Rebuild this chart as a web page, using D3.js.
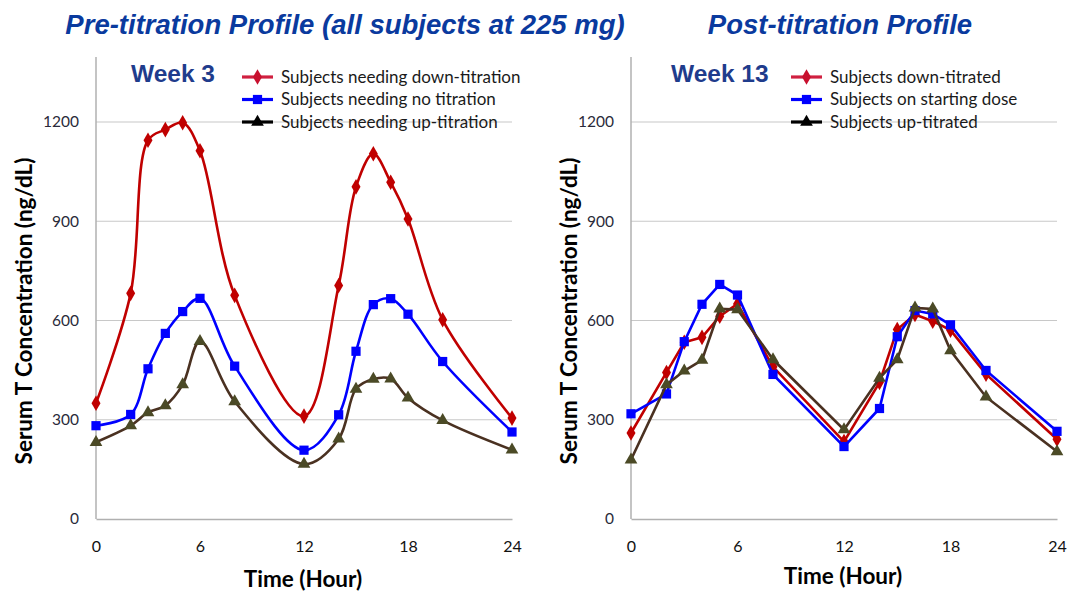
<!DOCTYPE html>
<html><head><meta charset="utf-8">
<script src="https://cdn.jsdelivr.net/npm/d3@7"></script>
<style>body{margin:0;background:#fff}svg{display:block}</style>
</head><body><svg id="c" width="1070" height="592"></svg>
<script>
const hours = [0, 2, 3, 4, 5, 6, 8, 12, 14, 15, 16, 17, 18, 20, 24];
const xTicks = [0, 6, 12, 18, 24];
const yTicks = [0, 300, 600, 900, 1200];

// Week 3 (pre-titration)
const preDown = [350, 682, 1145, 1177, 1198, 1113, 676, 311, 706, 1004, 1104, 1018, 907, 602, 305];
const preNone = [282, 316, 454, 561, 627, 667, 462, 208, 315, 507, 648, 666, 619, 476, 263];
const preUp   = [232, 282, 322, 343, 406, 537, 355, 166, 242, 393, 423, 424, 366, 298, 209];
// Week 13 (post-titration)
const postDown = [260, 443, 534, 549, 613, 650, 460, 234, 413, 573, 618, 598, 571, 438, 241];
const postStart = [318, 378, 536, 649, 709, 677, 437, 219, 334, 551, 630, 620, 587, 449, 265];
const postUp = [179, 406, 448, 480, 635, 633, 482, 270, 426, 482, 638, 635, 509, 369, 204];

const preNames = ["Subjects needing down-titration", "Subjects needing no titration", "Subjects needing up-titration"];
const postNames = ["Subjects down-titrated", "Subjects on starting dose", "Subjects up-titrated"];
const titles = ["Pre-titration Profile (all subjects at 225 mg)", "Post-titration Profile"];
const weeks = ["Week 3", "Week 13"];

const styles = [
  {line: "#c00000", mark: "#c00000", legLine: "#d02040", legMark: "#c8102e", sym: d3.symbolDiamond, size: 70},
  {line: "#0000ff", mark: "#0000ff", legLine: "#0000ff", legMark: "#0000ff", sym: d3.symbolSquare, size: 85},
  {line: "#4a3121", mark: "#4b4a26", legLine: "#000000", legMark: "#000000", sym: d3.symbolTriangle, size: 70}
];

const svg = d3.select("#c");
const FONT = "Lato, 'Open Sans', sans-serif";

function panel(cfg) {
  const x = d3.scaleLinear().domain([0, 24]).range([cfg.x0, cfg.x1]);
  const y = d3.scaleLinear().domain([0, 1200]).range([519, 122]);
  const g = svg.append("g");
  g.selectAll("line.grid").data(yTicks.filter(d => d > 0)).join("line")
    .attr("x1", cfg.x0).attr("x2", cfg.x1).attr("y1", d => y(d)).attr("y2", d => y(d))
    .attr("stroke", "#c8c8c8").attr("stroke-width", 1.2);
  const ya = g.append("g").attr("transform", `translate(${cfg.x0},0)`)
    .call(d3.axisLeft(y).tickValues(yTicks).tickFormat(d3.format("d")).tickSize(0).tickPadding(17));
  ya.select(".domain").attr("stroke", "#b0b0b0").attr("stroke-width", 1.5)
    .attr("d", `M0,${y(1200) - 65}V${y(0)}`);
  ya.selectAll("text").attr("font-family", FONT).attr("font-size", 15.5).attr("fill", "#2a2a3a");
  const xa = g.append("g").attr("transform", `translate(0,${y(0)})`)
    .call(d3.axisBottom(x).tickValues(xTicks).tickSize(0).tickPadding(22));
  xa.select(".domain").attr("stroke", "#b0b0b0").attr("stroke-width", 1.5);
  xa.selectAll("text").attr("font-family", FONT).attr("font-size", 16).attr("fill", "#111");

  const line = d3.line().x((d, i) => x(hours[i])).y(d => y(d)).curve(cfg.curve);
  cfg.series.forEach((s, k) => {
    const st = styles[k];
    g.append("path").datum(s).attr("d", line).attr("fill", "none")
      .attr("stroke", st.line).attr("stroke-width", 2.6);
    g.selectAll(null).data(s).join("path")
      .attr("transform", (d, i) => `translate(${x(hours[i])},${y(d)})`)
      .attr("d", d3.symbol(st.sym, st.size)).attr("fill", st.mark);
  });
  cfg.names.forEach((n, k) => {
    const st = styles[k];
    const ly = 77 + k * 22.5;
    g.append("line").attr("x1", cfg.legX).attr("x2", cfg.legX + 31).attr("y1", ly).attr("y2", ly)
      .attr("stroke", st.legLine).attr("stroke-width", 3.2);
    g.append("path").attr("transform", `translate(${cfg.legX + 15.5},${ly})`)
      .attr("d", d3.symbol(st.sym, st.size)).attr("fill", st.legMark);
    g.append("text").attr("x", cfg.legX + 39).attr("y", ly + 5.5).text(n)
      .attr("font-family", FONT).attr("font-size", 17).attr("fill", "#1a1a1a");
  });
  g.append("text").attr("x", cfg.weekX).attr("y", 82).text(cfg.week)
    .attr("font-family", "'Liberation Sans', Arial, sans-serif").attr("font-weight", "bold")
    .attr("font-size", 24.5).attr("fill", "#1f3c8c");
  g.append("text").attr("x", cfg.titleX).attr("y", 34).text(cfg.title)
    .attr("text-anchor", "middle")
    .attr("font-family", "'Liberation Sans', Arial, sans-serif").attr("font-weight", "bold")
    .attr("font-style", "italic").attr("font-size", 27.5).attr("fill", "#0a3a9e");
  g.append("text").attr("x", (cfg.x0 + cfg.x1) / 2 - 1).attr("y", cfg.xtY).text("Time (Hour)")
    .attr("text-anchor", "middle").attr("font-family", FONT).attr("font-weight", "bold")
    .attr("font-size", 22.5).attr("fill", "#000");
  g.append("text").attr("transform", `translate(${cfg.ytX},311) rotate(-90)`)
    .text("Serum T Concentration (ng/dL)")
    .attr("text-anchor", "middle").attr("font-family", FONT).attr("font-weight", "bold")
    .attr("font-size", 22.5).attr("fill", "#000");
}

panel({x0: 96, x1: 512, series: [preDown, preNone, preUp], names: preNames,
  curve: d3.curveCatmullRom.alpha(0.5), legX: 242, weekX: 131, week: weeks[0],
  title: titles[0], titleX: 345, xtY: 587, ytX: 32});
panel({x0: 631, x1: 1057, series: [postDown, postStart, postUp], names: postNames,
  curve: d3.curveLinear, legX: 791, weekX: 671, week: weeks[1],
  title: titles[1], titleX: 840, xtY: 584, ytX: 577});
</script></body></html>
